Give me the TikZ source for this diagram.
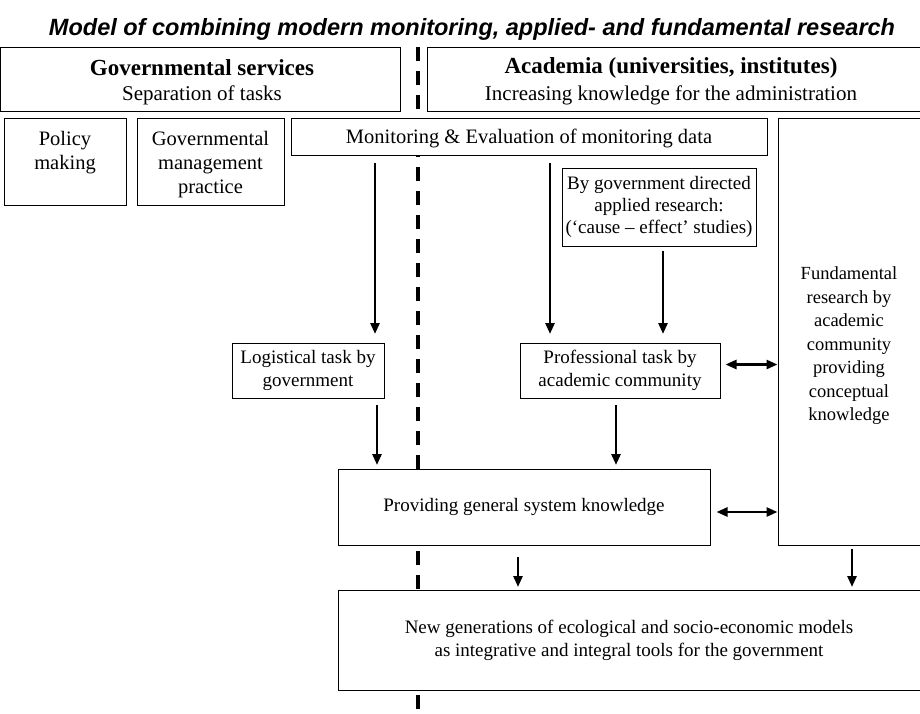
\documentclass[tikz,border=0pt]{standalone}
\usepackage{fontspec}
\setmainfont{Liberation Serif}
\newfontfamily\titlefont{Liberation Sans}
\usetikzlibrary{arrows.meta}
\begin{document}
\begin{tikzpicture}[x=1pt,y=-1pt,
  box/.style={draw,line width=1pt,fill=white,inner sep=0pt},
  txt/.style={align=center,inner sep=0pt,font=\fontsize{19}{23}\selectfont},
  arr/.style={line width=2.6pt,-{Triangle[length=11pt,width=9pt]}},
  darr/.style={line width=2.6pt,{Triangle[length=11pt,width=9pt]}-{Triangle[length=11pt,width=9pt]}},
  divider/.style={line width=4pt,dash pattern=on 14pt off 10pt}]
\useasboundingbox (0,0) rectangle (920,713);
\node[font=\titlefont\bfseries\itshape\fontsize{23.5}{26}\selectfont] (title) at (472,29) {Model of combining modern monitoring, applied- and fundamental research};
% divider
\coordinate (dtop) at (418,47);
\coordinate (dbot) at (418,713);
\draw[divider] (dtop) -- (dbot);
% header boxes
\node[box,minimum width=400pt,minimum height=64pt] (gov) at (200,79) {};
\node[txt,font=\fontsize{23}{26}\selectfont\bfseries] (govt) at (202,68) {Governmental services};
\node[txt,font=\fontsize{21}{24}\selectfont] (govs) at (202,95) {Separation of tasks};
\node[box,minimum width=493pt,minimum height=64pt] (acad) at (673.5,79) {};
\node[txt,font=\fontsize{23}{26}\selectfont\bfseries] (acadt) at (671,68) {Academia (universities, institutes)};
\node[txt,font=\fontsize{21}{24}\selectfont] (acads) at (671,95) {Increasing knowledge for the administration};
% second row
\node[box,minimum width=122pt,minimum height=87pt] (policy) at (65,161.5) {};
\node[txt,font=\fontsize{20.5}{24}\selectfont,anchor=north] at (65,131) {Policy\\making};
\node[box,minimum width=147pt,minimum height=87pt] (mgmt) at (210.5,161.5) {};
\node[txt,font=\fontsize{20.5}{24}\selectfont,anchor=north] at (210.5,131) {Governmental\\management\\practice};
\node[box,minimum width=476pt,minimum height=37pt] (mon) at (529,136.5) {};
\node[txt,font=\fontsize{20.5}{24}\selectfont] (mont) at (529,138) {Monitoring \& Evaluation of monitoring data};
\node[box,minimum width=142pt,minimum height=427pt] (fund) at (849,331.5) {};
\node[txt,font=\fontsize{18.5}{23.5}\selectfont] (fundt) at (849,346) {Fundamental\\research by\\academic\\community\\providing\\conceptual\\knowledge};
\node[box,minimum width=194pt,minimum height=78pt,txt,font=\fontsize{19}{22}\selectfont] (applied) at (659,207) {By government directed\\applied research:\\(`cause -- effect' studies)};
% task row
\node[box,minimum width=152pt,minimum height=55pt,txt] (log) at (308,370.5) {Logistical task by\\government};
\node[box,minimum width=200pt,minimum height=55pt,txt] (prof) at (620,370.5) {Professional task by\\academic community};
\node[box,minimum width=372pt,minimum height=76pt,txt] (gen) at (524,507) {Providing general system knowledge};
\node[box,minimum width=582pt,minimum height=100pt,txt] (new) at (629,640) {New generations of ecological and socio-economic models\\as integrative and integral tools for the government};
% arrows
\draw[arr] (375,163) -- (375,334);
\draw[arr] (550,163) -- (550,334);
\draw[arr] (applied.south -| 663,0) ++(0,4) -- (663,334);
\draw[darr] (prof.east) ++(5,-6) -- (fund.west |- 0,364.5);
\draw[arr] (377,405) -- (377,465);
\draw[arr] (616,405) -- (616,465);
\draw[darr] (gen.east) ++(6,5) -- (fund.west |- 0,512);
\draw[arr] (518,557) -- (518,587);
\draw[arr] (852,549) -- (852,587);
\end{tikzpicture}
\end{document}
